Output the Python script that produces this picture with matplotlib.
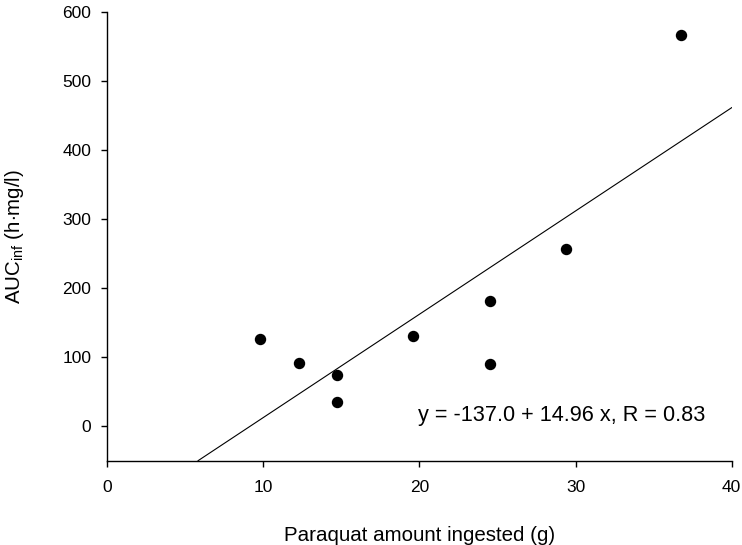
import numpy as np
import matplotlib
matplotlib.use('Agg')
import matplotlib.pyplot as plt

plt.rcParams['font.family'] = ['Liberation Sans', 'DejaVu Sans']
plt.rcParams['mathtext.fontset'] = 'custom'
plt.rcParams['mathtext.rm'] = 'Liberation Sans'
plt.rcParams['mathtext.it'] = 'Liberation Sans:italic'

# measured values
dose_g = [9.8, 12.25, 14.7, 14.7, 19.6, 24.5, 24.5, 29.4, 36.75]
auc = [127, 92, 74, 35, 130, 181, 90, 256, 567]

# regression reported on the chart
intercept = -137.0
slope = 14.96
r_value = 0.83

fig = plt.figure(figsize=(7.42, 5.45), dpi=100)
ax = fig.add_axes([0.1446, 0.1547, 0.8415, 0.8233])

ax.plot(dose_g, auc, 'o', color='black', markersize=7.2)

# fit line, clipped to the bottom of the axis
x0 = (-50 - intercept) / slope
xs = np.array([x0, 40])
ax.plot(xs, intercept + slope * xs, '-', color='black', linewidth=0.8)

ax.text(19.9, 7, f'y = {intercept:.1f} + {slope:.2f} x, R = {r_value:.2f}',
        fontsize=15.6, va='baseline', ha='left')

ax.set_xlim(0, 40)
ax.set_ylim(-50, 600)
ax.set_xticks([0, 10, 20, 30, 40])
ax.set_yticks([0, 100, 200, 300, 400, 500, 600])

ax.spines['top'].set_visible(False)
ax.spines['right'].set_visible(False)
for s in ['left', 'bottom']:
    ax.spines[s].set_linewidth(1.0)
ax.tick_params(direction='out', length=4.5, width=1.0, labelsize=12.5)
ax.tick_params(axis='x', pad=9.5)
ax.tick_params(axis='y', pad=7)

ax.set_xlabel('Paraquat amount ingested (g)', fontsize=14.8, labelpad=22)
ax.set_ylabel(r'AUC$_{\mathrm{inf}}$ (h$\cdot$mg/l)', fontsize=14.8, labelpad=26)

fig.savefig('out.png', dpi=100)
